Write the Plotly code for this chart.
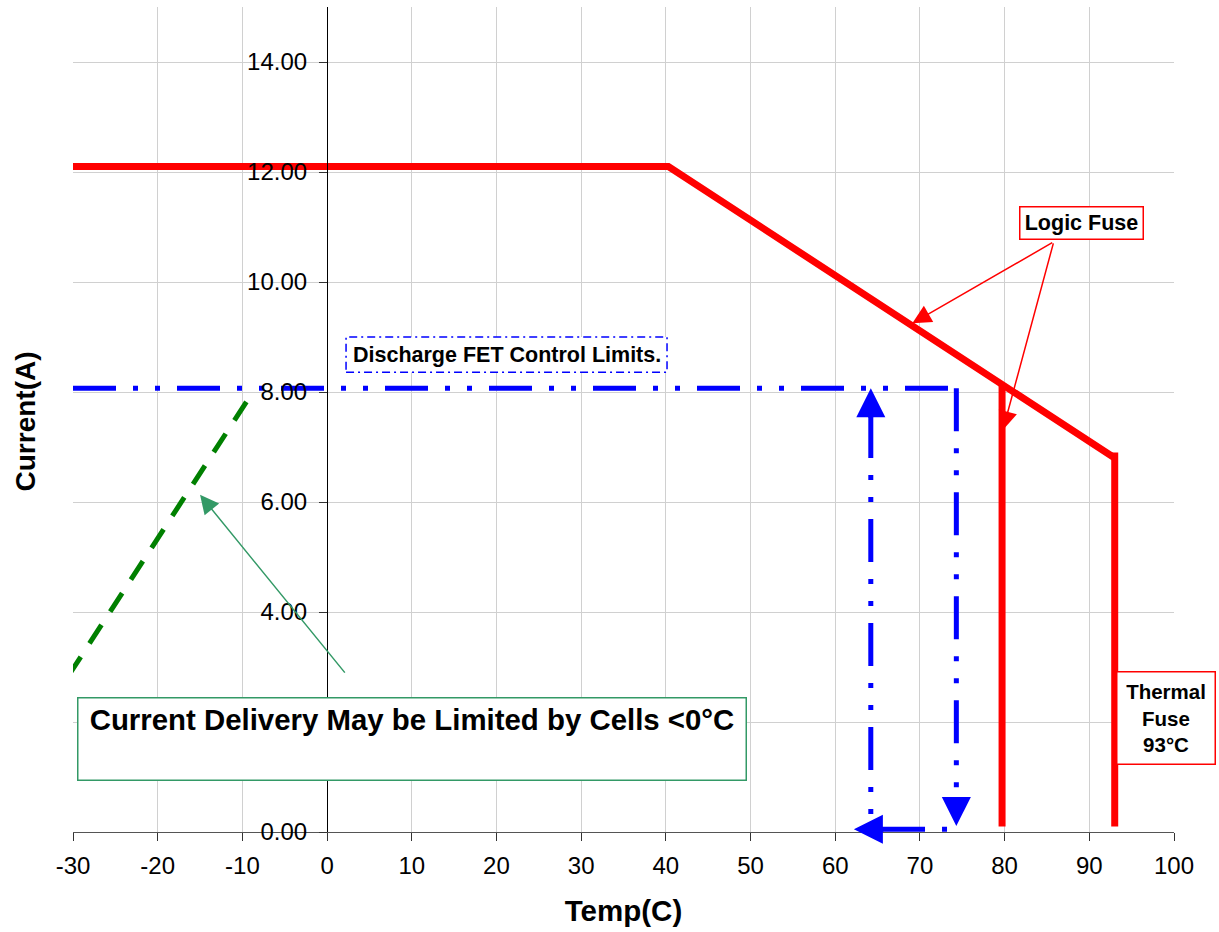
import plotly.graph_objects as go

FONT = "Liberation Sans, Arial, sans-serif"

# ---- axis ticks ----
x_ticks = [-30, -20, -10, 0, 10, 20, 30, 40, 50, 60, 70, 80, 90, 100]
x_tick_labels = ["-30", "-20", "-10", "0", "10", "20", "30", "40", "50", "60", "70", "80", "90", "100"]
y_ticks = [0, 2, 4, 6, 8, 10, 12, 14]
# the 2.00 label sits hidden behind the note box in the reference
y_tick_labels = ["0.00", "", "4.00", "6.00", "8.00", "10.00", "12.00", "14.00"]

# ---- logic fuse curve (red) ----
logic_temp = [-30.0, 40.3, 93.0]
logic_current = [12.1, 12.1, 6.8]
logic_cut_temp = [79.7, 79.7]
logic_cut_current = [8.12, 0.1]
thermal_temp = [93.0, 93.0]
thermal_current = [6.9, 0.1]

# ---- discharge FET control limits (blue) ----
fet_h_temp = [-30.0, 74.3]
fet_h_current = [8.07, 8.07]
fet_down_temp = [74.3, 74.3]
fet_down_current = [8.07, 0.62]
fet_back_temp = [73.2, 62.8]
fet_back_current = [0.05, 0.05]
fet_up_temp = [64.2, 64.2]
fet_up_current = [7.58, 0.05]

# ---- cell limited region (green) ----
cell_temp = [-30.5, -9.4]
cell_current = [2.85, 7.85]

BLUE = "#0000FF"
RED = "#FF0000"
GREEN = "#008000"
SEA = "#339966"
FET_DASH = "43px,17px,5px,17px,5px,17px"

fig = go.Figure()


def line(x, y, color, width, dash="solid"):
    fig.add_trace(go.Scatter(x=x, y=y, mode="lines", showlegend=False, hoverinfo="skip",
                             line=dict(color=color, width=width, dash=dash)))


line(cell_temp, cell_current, GREEN, 5, "22px,16px")
line(fet_h_temp, fet_h_current, BLUE, 5, FET_DASH)
line(fet_down_temp, fet_down_current, BLUE, 5, FET_DASH)
line(fet_back_temp, fet_back_current, BLUE, 5, "5px,17px,43px,17px,5px,17px")
line(fet_up_temp, fet_up_current, BLUE, 5, FET_DASH)
line(logic_temp, logic_current, RED, 7)
line(logic_cut_temp, logic_cut_current, RED, 7)
line(thermal_temp, thermal_current, RED, 7)

annotations = []


def arrow(tip, tail, color, width, size):
    annotations.append(dict(x=tip[0], y=tip[1], ax=tail[0], ay=tail[1], xref="x", yref="y",
                            axref="x", ayref="y", text="", showarrow=True, arrowhead=2,
                            arrowcolor=color, arrowwidth=width, arrowsize=size))


# blue arrowheads
arrow((64.2, 8.07), (64.2, 7.5), BLUE, 4.5, 1.29)
arrow((74.3, 0.11), (74.3, 0.66), BLUE, 4.5, 1.29)
arrow((62.2, 0.05), (65.9, 0.05), BLUE, 4.5, 1.29)
# logic fuse pointers
arrow((69.1, 9.25), (85.8, 10.73), RED, 1.5, 2.5)
arrow((79.8, 7.31), (85.8, 10.73), RED, 1.5, 2.5)
# cell pointer
arrow((-15.0, 6.13), (2.24, 2.87), SEA, 1.5, 2.5)

# text boxes
annotations.append(dict(x=89.1, y=11.08, xref="x", yref="y", showarrow=False,
                        text="<b>Logic Fuse</b>", font=dict(family=FONT, size=21.5, color="black"),
                        bgcolor="white", bordercolor=RED, borderwidth=1.5, borderpad=0,
                        width=122, height=31))
annotations.append(dict(x=99.1, y=2.04, xref="x", yref="y", showarrow=False,
                        text="<b>Thermal<br>Fuse<br>93°C</b>",
                        font=dict(family=FONT, size=20.5, color="black"),
                        bgcolor="white", bordercolor=RED, borderwidth=1.5, borderpad=0,
                        width=97, height=91, yshift=2))
annotations.append(dict(x=21.2, y=8.68, xref="x", yref="y", showarrow=False,
                        text="<b>Discharge FET Control Limits.</b>",
                        font=dict(family=FONT, size=21.5, color="black")))
annotations.append(dict(x=10.04, y=1.7, xref="x", yref="y", showarrow=False,
                        text="<b>Current Delivery May be Limited by Cells <0°C</b><br> ",
                        font=dict(family=FONT, size=29.4, color="black"),
                        bgcolor="white", bordercolor=SEA, borderwidth=1.5, borderpad=0,
                        width=667, height=81, valign="middle"))
# y-axis title
annotations.append(dict(x=-0.0436, y=0.4976, xref="paper", yref="paper", showarrow=False,
                        xanchor="center", yanchor="middle",
                        text="<b>Current(A)</b>", textangle=-90,
                        font=dict(family=FONT, size=28, color="black")))

shapes = [dict(type="rect", xref="x", yref="y", x0=2.24, x1=40.14, y0=8.36, y1=9.0,
               line=dict(color=BLUE, width=1.5, dash="8px,4px,2px,4px"),
               fillcolor="white", layer="above")]

fig.update_layout(
    width=1219, height=932,
    margin=dict(l=73, r=45, t=7, b=100),
    paper_bgcolor="white", plot_bgcolor="white",
    font=dict(family=FONT, color="black"),
    showlegend=False,
    annotations=annotations,
    shapes=shapes,
    xaxis=dict(range=[-30, 100], tickvals=x_ticks, ticktext=x_tick_labels,
               showgrid=True, gridcolor="#d0d0d0", gridwidth=1, zeroline=False,
               showline=True, linecolor="#555555", linewidth=1.2,
               ticks="outside", ticklen=8, tickcolor="#333333", ticklabelstandoff=4,
               tickfont=dict(family=FONT, size=24, color="black"),
               title=dict(text="<b>Temp(C)</b>", font=dict(family=FONT, size=29.5, color="black"),
                          standoff=22)),
    yaxis=dict(range=[0, 15], tickvals=y_ticks, ticktext=y_tick_labels,
               anchor="free", position=30 / 130,
               showgrid=True, gridcolor="#d0d0d0", gridwidth=1, zeroline=False,
               showline=True, linecolor="black", linewidth=1.2,
               ticks="outside", ticklen=8, tickcolor="#333333", ticklabelstandoff=7,
               tickfont=dict(family=FONT, size=24, color="black")),
)

fig.write_html("out.html", config={"displayModeBar": False},
               post_script="document.body.style.margin='0';document.body.style.overflow='hidden';")
